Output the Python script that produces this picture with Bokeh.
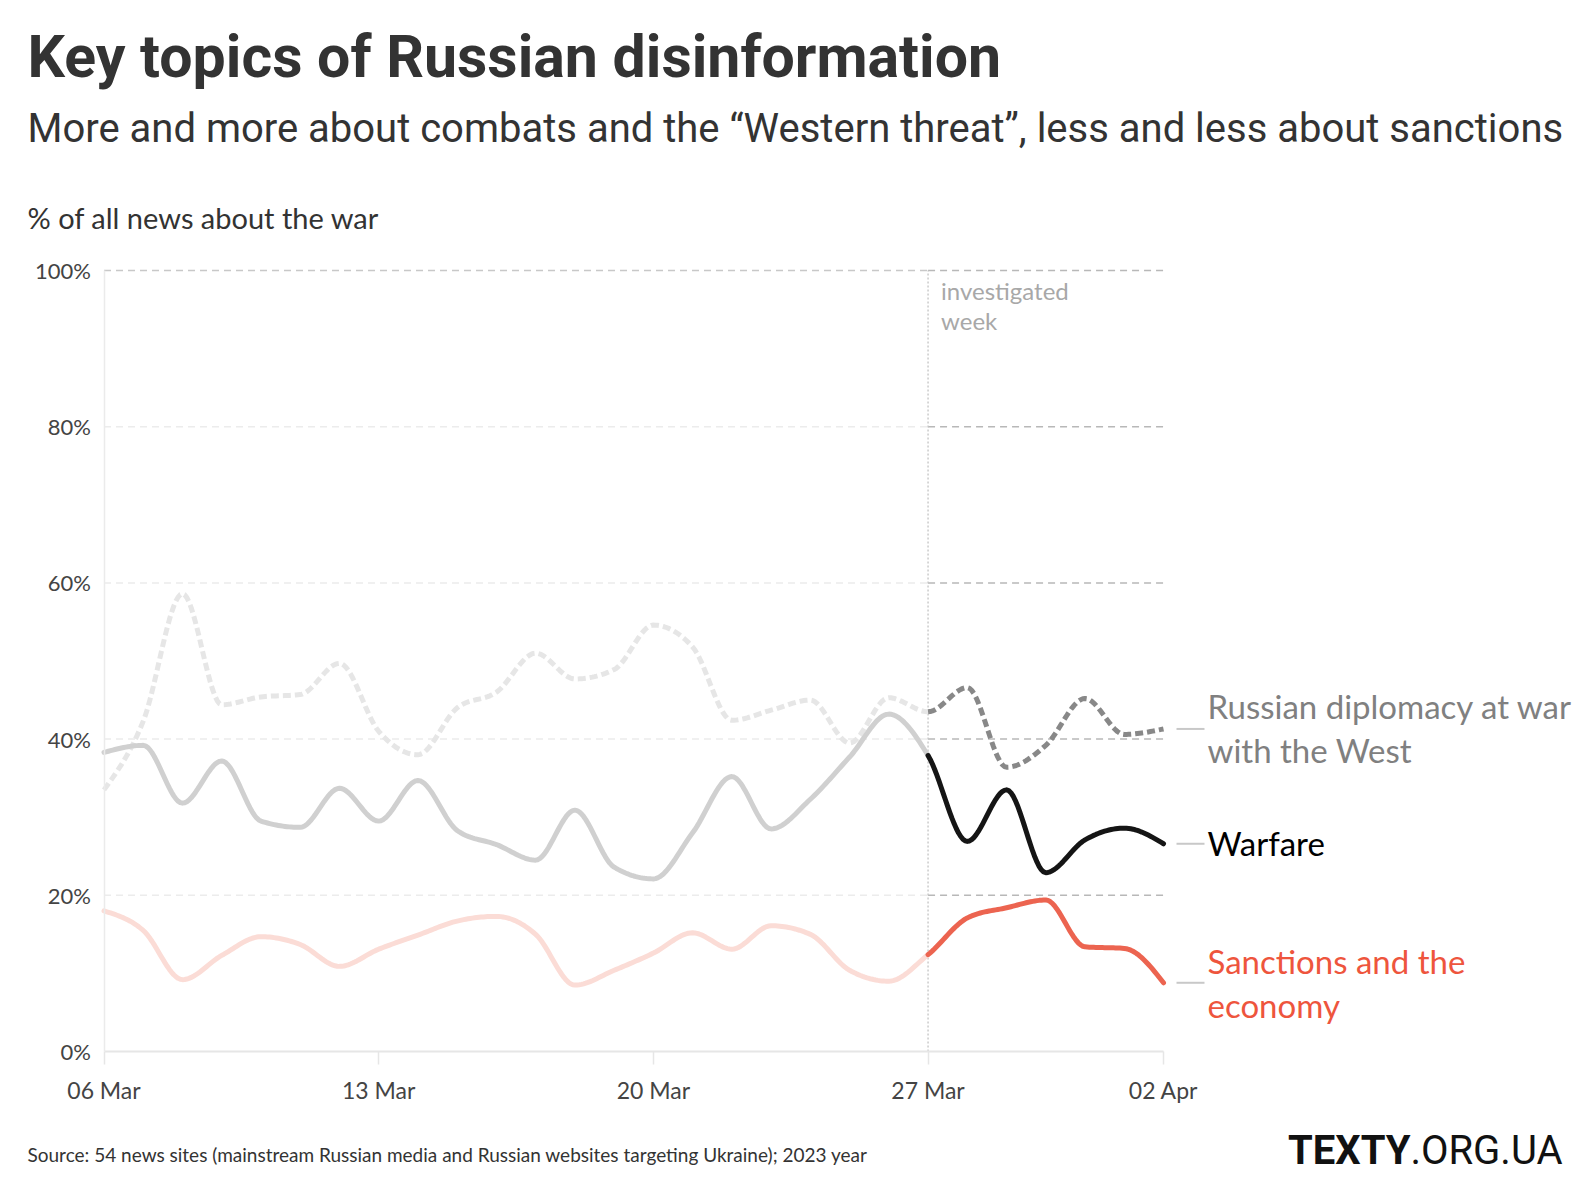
import numpy as np
from bokeh.plotting import figure
from bokeh.models import Label, FixedTicker, Range1d
from bokeh.embed import file_html
from bokeh.resources import INLINE

# ---------------- data ----------------
tick_days = [0, 7, 14, 21, 27]
tick_labels = ["06 Mar", "13 Mar", "20 Mar", "27 Mar", "02 Apr"]
y_ticks = [0, 20, 40, 60, 80, 100]
y_tick_labels = ["0%", "20%", "40%", "60%", "80%", "100%"]
investigated_start = 21  # 27 Mar

warfare = [38.3, 39.2, 31.8, 37.2, 29.5, 28.7, 33.7, 29.5, 34.7, 28.3, 26.5, 24.5, 30.9, 23.6,
           22.1, 28.0, 35.2, 28.5, 32.3, 37.7, 43.2, 37.9, 26.9, 33.5, 22.9, 27.1, 28.6, 26.6]
diplomacy = [33.5, 42.3, 58.6, 44.4, 45.4, 45.7, 49.7, 41.0, 38.0, 44.0, 46.0, 51.0, 47.7, 48.9,
             54.6, 51.8, 42.4, 43.7, 45.0, 39.5, 45.3, 43.5, 46.6, 36.4, 39.2, 45.2, 40.6, 41.3]
sanctions = [18.0, 15.5, 9.2, 12.3, 14.7, 13.7, 10.9, 13.1, 14.9, 16.7, 17.3, 15.0, 8.5, 10.4,
             12.6, 15.2, 13.1, 16.1, 15.0, 10.4, 9.0, 12.4, 17.1, 18.4, 19.4, 13.4, 13.2, 8.8]
days = list(range(len(warfare)))

# ---------------- layout (pixels) ----------------
W, H = 1590, 1192
DAY0_PX, DAYN_PX = 103.5, 1163.0      # x pixel of first / last day
Y0_PX, Y100_PX = 1051.0, 270.0        # y pixel (from top) of 0% / 100%
PX_PER_DAY = (DAYN_PX - DAY0_PX) / (days[-1] - days[0])
PX_PER_PCT = (Y0_PX - Y100_PX) / 100.0
X_START = days[0] - DAY0_PX / PX_PER_DAY
X_END = days[0] + (W - DAY0_PX) / PX_PER_DAY
Y_START = -(H - Y0_PX) / PX_PER_PCT
Y_END = 100 + Y100_PX / PX_PER_PCT

BODY = "Lato"
HEAD = "Roboto"


def monotone_path(xs, ys, n=18):
    """Render a monotone-X cubic (as d3.curveMonotoneX) through the data points."""
    xs = np.asarray(xs, float)
    ys = np.asarray(ys, float)
    h = np.diff(xs)
    s = np.diff(ys) / h
    t = np.zeros_like(ys)
    for i in range(1, len(ys) - 1):
        p_ = (s[i - 1] * h[i] + s[i] * h[i - 1]) / (h[i - 1] + h[i])
        t[i] = (np.sign(s[i - 1]) + np.sign(s[i])) * min(abs(s[i - 1]), abs(s[i]), 0.5 * abs(p_))
    t[0] = (3 * s[0] - t[1]) / 2
    t[-1] = (3 * s[-1] - t[-2]) / 2
    ox, oy = [], []
    for i in range(len(xs) - 1):
        u = np.linspace(0, 1, n, endpoint=False)
        h00 = 2 * u**3 - 3 * u**2 + 1
        h10 = u**3 - 2 * u**2 + u
        h01 = -2 * u**3 + 3 * u**2
        h11 = u**3 - u**2
        ox.extend(xs[i] + u * h[i])
        oy.extend(h00 * ys[i] + h10 * h[i] * t[i] + h01 * ys[i + 1] + h11 * h[i] * t[i + 1])
    ox.append(xs[-1])
    oy.append(ys[-1])
    return np.array(ox), np.array(oy)


p = figure(width=W, height=H, output_backend="svg", toolbar_location=None,
           x_range=Range1d(X_START, X_END), y_range=Range1d(Y_START, Y_END),
           min_border=0)
p.outline_line_color = None
p.xgrid.visible = False
p.ygrid.visible = False
p.background_fill_color = "white"
p.border_fill_color = "white"

# axes, pinned at 0 so that the frame can hold the titles as well
p.xaxis.fixed_location = 0
p.xaxis.ticker = FixedTicker(ticks=tick_days)
p.xaxis.major_label_overrides = {d: l for d, l in zip(tick_days, tick_labels)}
p.xaxis.bounds = (days[0], days[-1])
p.xaxis.axis_line_color = "#e6e6e6"
p.xaxis.axis_line_width = 2
p.xaxis.major_tick_line_color = "#e6e6e6"
p.xaxis.major_tick_line_width = 1.5
p.xaxis.major_tick_in = 0
p.xaxis.major_tick_out = 13
p.xaxis.minor_tick_line_color = None
p.xaxis.major_label_standoff = 11
p.xaxis.major_label_text_font = BODY
p.xaxis.major_label_text_font_size = "23px"
p.xaxis.major_label_text_color = "#444444"

p.yaxis.fixed_location = 0
p.yaxis.ticker = FixedTicker(ticks=y_ticks)
p.yaxis.major_label_overrides = {v: l for v, l in zip(y_ticks, y_tick_labels)}
p.yaxis.bounds = (0, 100)
p.yaxis.axis_line_color = "#ebebeb"
p.yaxis.axis_line_width = 1.5
p.yaxis.major_tick_in = 0
p.yaxis.major_tick_out = 0
p.yaxis.minor_tick_line_color = None
p.yaxis.major_label_standoff = 13
p.yaxis.major_label_text_font = BODY
p.yaxis.major_label_text_font_size = "22px"
p.yaxis.major_label_text_color = "#444444"

# grid lines (light before the investigated week, darker within it)
g_mid = [v for v in y_ticks if 0 < v < 100]
p.segment(x0=[days[0]] * len(g_mid), y0=g_mid, x1=[investigated_start] * len(g_mid), y1=g_mid,
          line_color="#ececec", line_width=1.5, line_dash="7 5")
p.segment(x0=[days[0]], y0=[y_ticks[-1]], x1=[investigated_start], y1=[y_ticks[-1]],
          line_color="#c8c8c8", line_width=1.5, line_dash="7 5")
g_all = [v for v in y_ticks if v > 0]
p.segment(x0=[investigated_start] * len(g_all), y0=g_all, x1=[days[-1]] * len(g_all), y1=g_all,
          line_color="#b8b8b8", line_width=1.5, line_dash="7 5")

# investigated week marker
p.segment(x0=[investigated_start], y0=[y_ticks[0]], x1=[investigated_start], y1=[y_ticks[-1]],
          line_color="#c4c4c4", line_width=1.3, line_dash="2 2")

# series
series = [
    (diplomacy, "#e6e6e6", "#888888", "8 4"),
    (warfare, "#d0d0d0", "#151515", "solid"),
    (sanctions, "#fbdcd6", "#ec6450", "solid"),
]
for vals, light, dark, dash in series:
    sx, sy = monotone_path(days, vals)
    before = sx <= investigated_start + 1e-9
    after = sx >= investigated_start - 1e-9
    cap = "butt" if dash != "solid" else "round"
    p.line(sx[before], sy[before], line_color=light, line_width=5, line_dash=dash,
           line_cap=cap, line_join="round")
    p.line(sx[after], sy[after], line_color=dark, line_width=5, line_dash=dash,
           line_cap=cap, line_join="round")

# leaders + end labels
lead0 = days[-1] + 13 / PX_PER_DAY
lead1 = days[-1] + 41 / PX_PER_DAY
ends = [diplomacy[-1], warfare[-1], sanctions[-1]]
p.segment(x0=[lead0] * 3, y0=ends, x1=[lead1] * 3, y1=ends, line_color="#c8c8c8", line_width=2)

end_labels = [
    (diplomacy[-1], ["Russian diplomacy at war", "with the West"], "#808080", [23, -21]),
    (warfare[-1], ["Warfare"], "#000000", [1]),
    (sanctions[-1], ["Sanctions and the", "economy"], "#ee553d", [22, -22]),
]
for yv, lines, col, offs in end_labels:
    for txt, off in zip(lines, offs):
        p.add_layout(Label(x=days[-1], y=yv, x_offset=44, y_offset=off, text=txt,
                           text_font=BODY, text_font_size="33px", text_color=col,
                           text_baseline="alphabetic", text_align="left"))

# investigated week text
for txt, off in [("investigated", -20), ("week", -50)]:
    p.add_layout(Label(x=investigated_start, y=100, x_offset=13, y_offset=off, text=txt,
                       text_font=BODY, text_font_size="24px", text_color="#a8a8a8",
                       text_baseline="alphabetic"))


# titles and notes: screen units, measured from the canvas' bottom-left corner
def screen_label(x, y_from_top, text, font, size, color, style="normal", align="left"):
    p.add_layout(Label(x=x, y=H - y_from_top, x_units="screen", y_units="screen", text=text,
                       text_font=font, text_font_size=size, text_color=color,
                       text_font_style=style, text_align=align,
                       text_baseline="alphabetic"))


screen_label(27, 56, "Key topics of Russian disinformation", HEAD, "59px", "#333333", "bold")
screen_label(27, 128, "More and more about combats and the \u201cWestern threat\u201d, less and less about sanctions",
             HEAD, "40px", "#333333")
screen_label(27, 217, "% of all news about the war", BODY, "29px", "#333333")
screen_label(27, 1154, "Source: 54 news sites (mainstream Russian media and Russian websites targeting Ukraine); 2023 year",
             BODY, "19px", "#333333")
screen_label(1562, 1150, ".ORG.UA", HEAD, "40px", "#111111", "normal", "right")
screen_label(1410, 1150, "TEXTY", HEAD, "40px", "#111111", "bold", "right")

open("out.html", "w").write(file_html(p, INLINE))
